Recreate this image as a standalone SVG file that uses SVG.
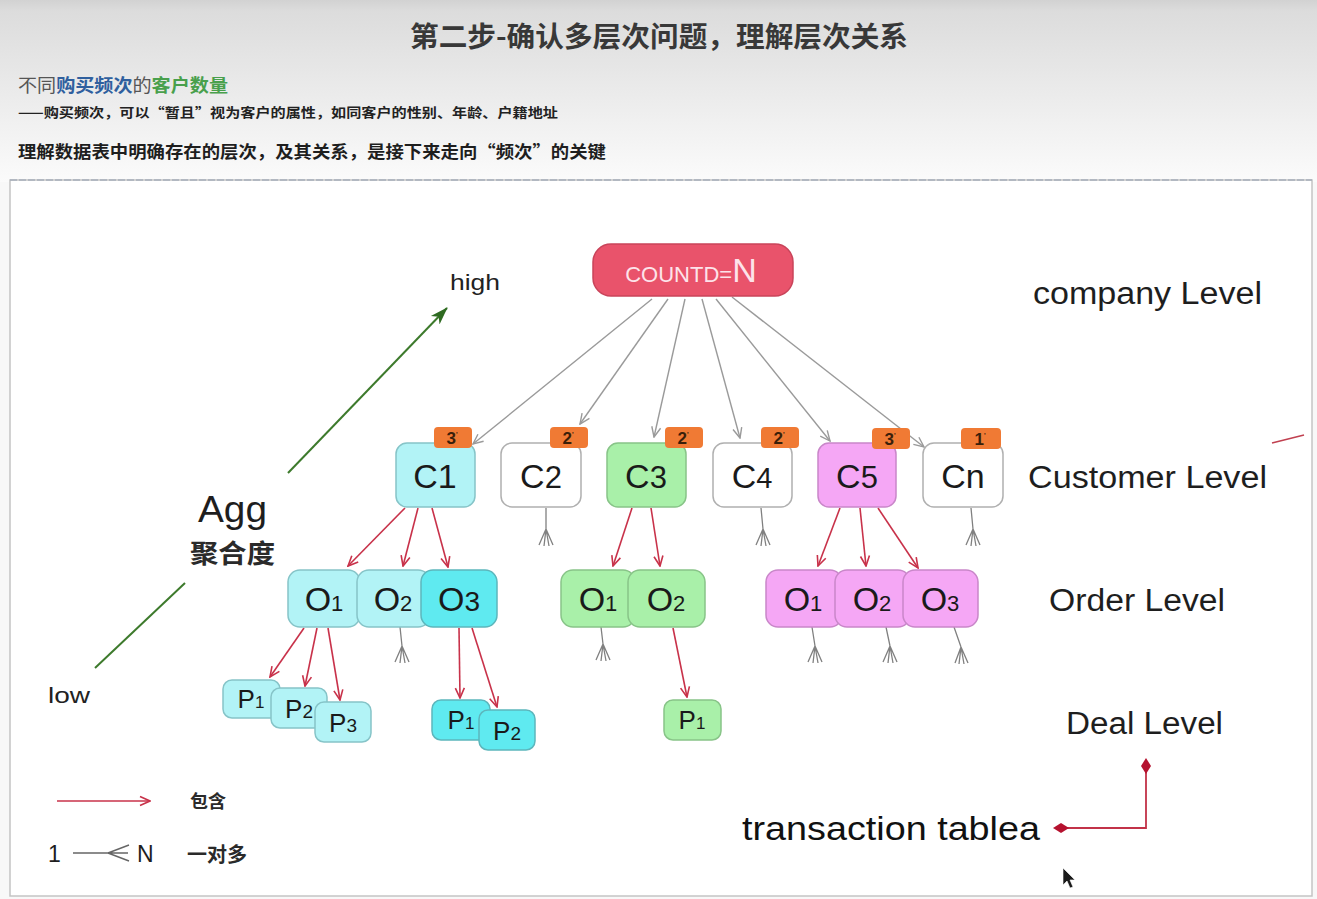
<svg xmlns="http://www.w3.org/2000/svg" width="1317" height="899" viewBox="0 0 1317 899">
<defs>
<linearGradient id="hdr" x1="0" y1="0" x2="0" y2="1">
<stop offset="0" stop-color="#d2d2d2"/>
<stop offset="0.06" stop-color="#dcdcdc"/>
<stop offset="1" stop-color="#fbfbfb"/>
</linearGradient>
<marker id="ahRed" viewBox="0 0 12 12" refX="11" refY="6" markerWidth="12" markerHeight="12" markerUnits="userSpaceOnUse" orient="auto">
<path d="M1,1.5 L11,6 L1,10.5" fill="none" stroke="#c8324a" stroke-width="1.6"/>
</marker>
<marker id="ahGray" viewBox="0 0 12 12" refX="11" refY="6" markerWidth="12" markerHeight="12" markerUnits="userSpaceOnUse" orient="auto">
<path d="M1,1.5 L11,6 L1,10.5" fill="none" stroke="#9a9a9a" stroke-width="1.4"/>
</marker>
<marker id="ahGreen" viewBox="0 0 18 14" refX="17" refY="7" markerWidth="18" markerHeight="14" markerUnits="userSpaceOnUse" orient="auto">
<path d="M0,1 L18,7 L0,13 L5,7 Z" fill="#2f6b22"/>
</marker>
<marker id="dia" viewBox="0 0 16 10" refX="8" refY="5" markerWidth="16" markerHeight="10" markerUnits="userSpaceOnUse" orient="auto">
<path d="M0,5 L8,0 L16,5 L8,10 Z" fill="#b5122f"/>
</marker>
<style>
.zh{font-family:"Noto Sans CJK SC","Liberation Sans",sans-serif}
.lat{font-family:"Liberation Sans","DejaVu Sans",sans-serif}
.gray{fill:none;stroke:#9a9a9a;stroke-width:1.4;marker-end:url(#ahGray)}
.red{fill:none;stroke:#c8324a;stroke-width:1.6;marker-end:url(#ahRed)}
.fork{fill:none;stroke:#808080;stroke-width:1.3}
.cw{fill:#ffffff;stroke:#b0b0b0;stroke-width:1.5}
.cy{fill:#b2f3f6;stroke:#86c4c8;stroke-width:1.5}
.cyb{fill:#5feaf0;stroke:#5cb6bc;stroke-width:1.5}
.gr{fill:#a9f0a9;stroke:#88c488;stroke-width:1.5}
.pk{fill:#f5a7f5;stroke:#c987c9;stroke-width:1.5}
.badge{fill:#f07a34}
.bt{font-family:"Liberation Sans",sans-serif;font-size:17px;font-weight:bold;fill:#3a200a;text-anchor:middle}
.nt{font-family:"Liberation Sans",sans-serif;fill:#1a1a1a;text-anchor:middle}
.lvl{font-family:"Liberation Sans",sans-serif;font-size:31px;fill:#1e1e1e}
</style>
</defs>

<!-- background -->
<rect x="0" y="0" width="1317" height="899" fill="#f8f8f8"/>
<rect x="0" y="0" width="1317" height="182" fill="url(#hdr)"/>
<rect x="10" y="180" width="1302" height="716" fill="#ffffff" stroke="#c4c4c4" stroke-width="1.5"/>
<line x1="10" y1="180" x2="1312" y2="180" stroke="#a8b0bc" stroke-width="1.5" stroke-dasharray="7 2"/>

<!-- header text -->
<g id="header">
<text x="659" y="47" class="zh" font-size="28" font-weight="bold" fill="#383838" text-anchor="middle" textLength="498" lengthAdjust="spacingAndGlyphs">第二步-确认多层次问题，理解层次关系</text>
<text x="18" y="92" class="zh" font-size="18" textLength="210" lengthAdjust="spacingAndGlyphs"><tspan fill="#555555">不同</tspan><tspan fill="#2f5f9e" font-weight="bold">购买频次</tspan><tspan fill="#555555">的</tspan><tspan fill="#49a04c" font-weight="bold">客户数量</tspan></text>
<text x="18" y="117" class="zh" font-size="13" font-weight="bold" fill="#222222" textLength="540" lengthAdjust="spacingAndGlyphs">——购买频次，可以“暂且”视为客户的属性，如同客户的性别、年龄、户籍地址</text>
<text x="18" y="158" class="zh" font-size="17" font-weight="bold" fill="#1e1e1e" textLength="588" lengthAdjust="spacingAndGlyphs">理解数据表中明确存在的层次，及其关系，是接下来走向“频次”的关键</text>
</g>

<!-- connectors -->
<g id="connectors">
<path class="gray" d="M652,299 L473,444"/>
<path class="gray" d="M668,299 L580,424"/>
<path class="gray" d="M685,299 L654,437"/>
<path class="gray" d="M702,299 L740,438"/>
<path class="gray" d="M716,299 L830,441"/>
<path class="gray" d="M732,297 L924,447"/>

<path class="red" d="M405,508 L348,566"/>
<path class="red" d="M418,508 L403,566"/>
<path class="red" d="M432,508 L448,567"/>
<path class="red" d="M304,628 L270,677"/>
<path class="red" d="M317,628 L305,686"/>
<path class="red" d="M328,628 L340,700"/>
<path class="red" d="M459,628 L460,698"/>
<path class="red" d="M472,628 L497,707"/>
<path class="red" d="M632,508 L613,566"/>
<path class="red" d="M651,508 L660,566"/>
<path class="red" d="M673,628 L687,697"/>
<path class="red" d="M840,508 L818,566"/>
<path class="red" d="M860,508 L866,566"/>
<path class="red" d="M878,508 L918,568"/>

<path class="fork" d="M546,508 L546,529 M546,529 L539,545 M546,529 L544,546 M546,529 L549,546 M546,529 L553,545"/>
<path class="fork" d="M761,508 L763,529 M763,529 L756,545 M763,529 L761,546 M763,529 L766,546 M763,529 L770,545"/>
<path class="fork" d="M971,508 L973,529 M973,529 L966,545 M973,529 L971,546 M973,529 L976,546 M973,529 L980,545"/>
<path class="fork" d="M400,627 L402,646 M402,646 L395,662 M402,646 L400,663 M402,646 L405,663 M402,646 L409,662"/>
<path class="fork" d="M601,627 L603,644 M603,644 L596,660 M603,644 L601,661 M603,644 L606,661 M603,644 L610,660"/>
<path class="fork" d="M812,627 L815,646 M815,646 L808,662 M815,646 L813,663 M815,646 L818,663 M815,646 L822,662"/>
<path class="fork" d="M886,627 L890,646 M890,646 L883,662 M890,646 L888,663 M890,646 L893,663 M890,646 L897,662"/>
<path class="fork" d="M954,627 L961,647 M961,647 L955,663 M961,647 L959,664 M961,647 L964,664 M961,647 L968,663"/>

<path d="M95,668 L185,583" fill="none" stroke="#3d7a2c" stroke-width="2"/>
<path d="M288,473 L447,308" fill="none" stroke="#3d7a2c" stroke-width="2" marker-end="url(#ahGreen)"/>

<path d="M1061,828 L1146,828 L1146,766" fill="none" stroke="#c23248" stroke-width="1.8" marker-start="url(#dia)" marker-end="url(#dia)"/>
<line x1="1272" y1="443" x2="1304" y2="435" stroke="#c04050" stroke-width="1.5"/>
</g>

<!-- nodes -->
<g id="countd">
<rect x="593" y="244" width="200" height="52" rx="18" fill="#e9536b" stroke="#c9445a" stroke-width="1.5"/>
<text x="691" y="282" class="lat" fill="#fde3ea" text-anchor="middle"><tspan font-size="22">COUNTD=</tspan><tspan font-size="34">N</tspan></text>
</g>

<g id="C1"><rect class="cy" x="396" y="443" width="79" height="64" rx="11"/><text class="nt" x="435" y="488" font-size="34">C1</text></g>
<g id="C2"><rect class="cw" x="501" y="443" width="80" height="64" rx="11"/><text class="nt" x="541" y="488" font-size="34">C<tspan font-size="31">2</tspan></text></g>
<g id="C3"><rect class="gr" x="607" y="443" width="79" height="64" rx="11"/><text class="nt" x="646" y="488" font-size="34">C<tspan font-size="31">3</tspan></text></g>
<g id="C4"><rect class="cw" x="713" y="443" width="79" height="64" rx="11"/><text class="nt" x="752" y="488" font-size="34">C<tspan font-size="29">4</tspan></text></g>
<g id="C5"><rect class="pk" x="818" y="443" width="78" height="64" rx="11"/><text class="nt" x="857" y="488" font-size="34">C<tspan font-size="31">5</tspan></text></g>
<g id="Cn"><rect class="cw" x="923" y="443" width="80" height="64" rx="11"/><text class="nt" x="963" y="488" font-size="34">Cn</text></g>

<g id="badges">
<rect class="badge" x="434" y="427" width="38" height="21" rx="4"/><text class="bt" x="452" y="444">3<tspan font-size="7" dy="-7">'</tspan></text>
<rect class="badge" x="550" y="427" width="38" height="21" rx="4"/><text class="bt" x="568" y="444">2<tspan font-size="7" dy="-7">'</tspan></text>
<rect class="badge" x="665" y="427" width="38" height="21" rx="4"/><text class="bt" x="683" y="444">2<tspan font-size="7" dy="-7">'</tspan></text>
<rect class="badge" x="761" y="427" width="38" height="21" rx="4"/><text class="bt" x="779" y="444">2<tspan font-size="7" dy="-7">'</tspan></text>
<rect class="badge" x="872" y="428" width="38" height="21" rx="4"/><text class="bt" x="890" y="445">3<tspan font-size="7" dy="-7">'</tspan></text>
<rect class="badge" x="961" y="428" width="40" height="21" rx="4"/><text class="bt" x="980" y="445">1<tspan font-size="7" dy="-7">'</tspan></text>
</g>

<g id="C1-O1"><rect class="cy" x="288" y="570" width="72" height="57" rx="12"/><text class="nt" x="324" y="611" font-size="34">O<tspan font-size="22">1</tspan></text></g>
<g id="C1-O2"><rect class="cy" x="357" y="570" width="73" height="57" rx="12" fill="#bff4f7"/><text class="nt" x="393" y="611" font-size="34">O<tspan font-size="22">2</tspan></text></g>
<g id="C1-O3"><rect class="cyb" x="421" y="570" width="76" height="57" rx="12"/><text class="nt" x="459" y="611" font-size="34">O<tspan font-size="28">3</tspan></text></g>

<g id="C3-O1"><rect class="gr" x="561" y="570" width="74" height="57" rx="12"/><text class="nt" x="598" y="611" font-size="34">O<tspan font-size="22">1</tspan></text></g>
<g id="C3-O2"><rect class="gr" x="628" y="570" width="77" height="57" rx="12"/><text class="nt" x="666" y="611" font-size="34">O<tspan font-size="22">2</tspan></text></g>

<g id="C5-O1"><rect class="pk" x="766" y="570" width="76" height="57" rx="12"/><text class="nt" x="803" y="611" font-size="34">O<tspan font-size="22">1</tspan></text></g>
<g id="C5-O2"><rect class="pk" x="835" y="570" width="75" height="57" rx="12"/><text class="nt" x="872" y="611" font-size="34">O<tspan font-size="22">2</tspan></text></g>
<g id="C5-O3"><rect class="pk" x="903" y="570" width="75" height="57" rx="12"/><text class="nt" x="940" y="611" font-size="34">O<tspan font-size="22">3</tspan></text></g>

<g id="O1-P1"><rect class="cy" x="223" y="680" width="57" height="38" rx="9"/><text class="nt" x="251" y="708" font-size="26">P<tspan font-size="17">1</tspan></text></g>
<g id="O1-P2"><rect class="cy" x="271" y="688" width="56" height="40" rx="9"/><text class="nt" x="299" y="718" font-size="26">P<tspan font-size="19">2</tspan></text></g>
<g id="O1-P3"><rect class="cy" x="315" y="702" width="56" height="40" rx="9"/><text class="nt" x="343" y="732" font-size="26">P<tspan font-size="19">3</tspan></text></g>
<g id="O3-P1"><rect class="cyb" x="432" y="700" width="58" height="40" rx="9"/><text class="nt" x="461" y="729" font-size="26">P<tspan font-size="17">1</tspan></text></g>
<g id="O3-P2"><rect class="cyb" x="479" y="710" width="56" height="40" rx="9"/><text class="nt" x="507" y="740" font-size="26">P<tspan font-size="19">2</tspan></text></g>
<g id="G-P1"><rect class="gr" x="664" y="700" width="57" height="40" rx="9"/><text class="nt" x="692" y="729" font-size="26">P<tspan font-size="17">1</tspan></text></g>

<!-- labels -->
<g id="labels">
<text x="450" y="290" class="lat" font-size="22" fill="#222222" textLength="50" lengthAdjust="spacingAndGlyphs">high</text>
<text x="48" y="703" class="lat" font-size="22" fill="#222222" textLength="42" lengthAdjust="spacingAndGlyphs">low</text>
<text x="198" y="522" class="lat" font-size="36" fill="#1e1e1e" textLength="69" lengthAdjust="spacingAndGlyphs">Agg</text>
<text x="190" y="563" class="zh" font-size="26" fill="#2a2a2a" font-weight="bold" textLength="85" lengthAdjust="spacingAndGlyphs">聚合度</text>
<text x="1033" y="304" class="lvl" textLength="229" lengthAdjust="spacingAndGlyphs">company Level</text>
<text x="1028" y="488" class="lvl" textLength="239" lengthAdjust="spacingAndGlyphs">Customer Level</text>
<text x="1049" y="611" class="lvl" textLength="176" lengthAdjust="spacingAndGlyphs">Order Level</text>
<text x="1066" y="734" class="lvl" textLength="157" lengthAdjust="spacingAndGlyphs">Deal Level</text>
<text x="742" y="840" class="lat" font-size="34" fill="#111111" textLength="298" lengthAdjust="spacingAndGlyphs">transaction tablea</text>
</g>

<!-- legend -->
<g id="legend">
<path class="red" d="M57,801 L150,801"/>
<text x="190" y="808" class="zh" font-size="18" font-weight="bold" fill="#2a2a2a">包含</text>
<text x="48" y="862" class="lat" font-size="23" fill="#1e1e1e">1</text>
<path d="M73,853 L128,853 M108,853 L129,845 M108,853 L129,861" fill="none" stroke="#666666" stroke-width="1.4"/>
<text x="137" y="862" class="lat" font-size="23" fill="#1e1e1e">N</text>
<text x="187" y="862" class="zh" font-size="20" font-weight="bold" fill="#2a2a2a">一对多</text>
</g>

<path id="cursor" d="M1063,868 L1063,885 L1067,881 L1070,888 L1073,887 L1070,880 L1075,880 Z" fill="#1a1a1a" stroke="#ffffff" stroke-width="0.6"/>
</svg>
